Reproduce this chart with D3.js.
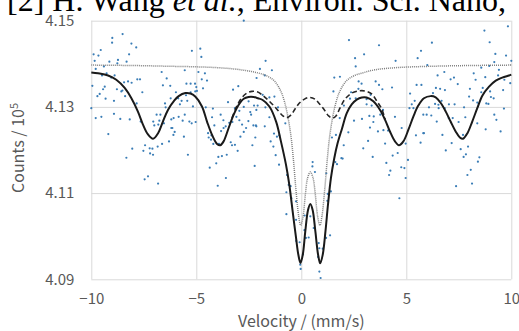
<!DOCTYPE html>
<html>
<head>
<meta charset="utf-8">
<script src="https://cdn.jsdelivr.net/npm/d3@7"></script>
<style>
  html, body { margin: 0; padding: 0; background: #fff; }
  svg { display: block; }
  .axis text { font-family: "Noto Sans CJK JP", "Noto Sans", sans-serif; fill: #595959; }
</style>
</head>
<body>
<div id="chart"></div>
<script>
// Mossbauer spectrum: measured counts (dots), total fit (solid),
// sextet component (dashed), doublet component (dotted)

const xTicks = [-10, -5, 0, 5, 10];
const yTicks = [4.09, 4.11, 4.13, 4.15];

// measured points [velocity mm/s, counts / 1e5]
const measured = [
  [-8.51,4.1469],[-9.00,4.1460],[-8.09,4.1447],[-9.01,4.1449],[-9.55,4.1432],[-7.86,4.1438],[-9.89,4.1422],[-9.66,4.1419],
  [-8.20,4.1422],[-9.14,4.1405],[-8.73,4.1409],[-8.32,4.1405],[-8.76,4.1401],[-9.84,4.1407],[-9.40,4.1394],[-9.79,4.1388],
  [-6.65,4.1381],[-9.27,4.1378],[-9.49,4.1373],[-8.89,4.1373],[-9.05,4.1368],[-6.41,4.1366],[-7.81,4.1364],[-7.68,4.1364],
  [-8.25,4.1359],[-8.44,4.1357],[-8.08,4.1356],[-9.95,4.1349],[-9.36,4.1347],[-6.24,4.1349],[-6.59,4.1350],[-9.44,4.1341],
  [-8.52,4.1338],[-8.78,4.1341],[-8.57,4.1336],[-7.57,4.1334],[-9.60,4.1330],[-9.71,4.1325],[-8.39,4.1325],[-9.32,4.1319],
  [-8.92,4.1314],[-6.22,4.1320],[-7.84,4.1308],[-6.49,4.1308],[-10.0,4.1297],[-6.46,4.1299],[-8.92,4.1284],[-6.89,4.1282],
  [-6.71,4.1282],[-9.79,4.1274],[-9.52,4.1277],[-8.62,4.1272],[-8.17,4.1271],[-7.65,4.1266],[-7.05,4.1266],[-6.76,4.1268],
  [-6.19,4.1271],[-6.54,4.1262],[-7.00,4.1257],[-6.81,4.1259],[-6.19,4.1251],[-9.19,4.1237],[-6.09,4.1235],[-6.30,4.1220],
  [-6.63,4.1214],[-7.44,4.1211],[-6.84,4.1208],[-7.22,4.1204],[-7.09,4.1203],[-8.05,4.1203],[-7.52,4.1198],[-7.20,4.1192],
  [-7.06,4.1189],[-8.33,4.1182],[-7.46,4.1132],[-7.30,4.1139],[-6.82,4.1122],
  [-2.74,4.1500],[-5.21,4.1430],[-4.81,4.1435],[-4.76,4.1416],[-5.55,4.1385],[-4.90,4.1381],[-4.59,4.1378],[-4.74,4.1364],
  [-4.49,4.1361],[-5.06,4.1354],[-5.27,4.1354],[-5.47,4.1354],[-5.00,4.1346],[-4.68,4.1343],[-4.97,4.1337],[-3.25,4.1340],
  [-3.00,4.1348],[-5.97,4.1334],[-5.27,4.1334],[-5.05,4.1336],[-5.49,4.1327],[-5.86,4.1320],[-5.70,4.1314],[-5.43,4.1314],
  [-5.78,4.1306],[-5.16,4.1301],[-4.55,4.1299],[-4.21,4.1296],[-3.16,4.1297],[-3.49,4.1311],[-2.51,4.1313],[-2.25,4.1303],
  [-2.74,4.1300],[-2.95,4.1291],[-2.43,4.1288],[-2.39,4.1282],[-5.55,4.1282],[-5.84,4.1277],[-6.08,4.1274],[-3.09,4.1277],
  [-3.84,4.1282],[-4.25,4.1276],[-5.33,4.1266],[-5.65,4.1268],[-5.22,4.1262],[-5.03,4.1265],[-3.71,4.1269],[-3.43,4.1263],
  [-3.28,4.1265],[-2.95,4.1269],[-2.52,4.1267],[-2.82,4.1259],[-2.28,4.1257],[-4.14,4.1257],[-3.60,4.1255],[-3.70,4.1251],
  [-6.14,4.1251],[-4.44,4.1239],[-2.14,4.1255],[-2.63,4.1251],[-6.03,4.1242],[-4.28,4.1234],[-2.74,4.1242],[-4.41,4.1229],
  [-5.59,4.1231],[-3.82,4.1244],[-2.90,4.1231],[-2.19,4.1229],[-4.30,4.1224],[-4.19,4.1214],[-3.92,4.1214],[-3.36,4.1218],
  [-3.30,4.1211],[-3.16,4.1212],[-2.33,4.1211],[-3.03,4.1198],[-5.40,4.1189],[-3.95,4.1184],[-3.78,4.1186],[-3.55,4.1189],
  [-4.05,4.1169],[-4.36,4.1159],[-2.22,4.1163],[-3.59,4.1135],[-3.98,4.1117],
  [-1.70,4.1407],[-1.97,4.1388],[-1.40,4.1385],[-1.74,4.1373],[-2.13,4.1367],[1.57,4.1368],[-1.28,4.1324],[-1.52,4.1322],
  [-1.84,4.1328],[-2.08,4.1303],[-1.71,4.1299],[-1.11,4.1299],[-2.14,4.1293],[1.53,4.1336],[-1.52,4.1276],[-2.16,4.1257],
  [-1.74,4.1255],[-0.76,4.1262],[1.83,4.1274],[-1.30,4.1238],[-1.16,4.1231],[-1.05,4.1234],[-1.46,4.1220],[1.65,4.1235],
  [1.46,4.1229],[-1.33,4.1208],[-1.22,4.1188],[-1.06,4.1166],[1.91,4.1181],[1.62,4.1172],[1.70,4.1167],[0.54,4.1172],
  [0.53,4.1162],[0.65,4.1149],[1.19,4.1146],[-0.68,4.1142],[-0.60,4.1119],[-0.51,4.1116],[1.41,4.1104],[-0.71,4.1102],
  [1.26,4.1098],[-0.47,4.1088],[-0.25,4.1081],[1.24,4.1082],[-0.71,4.1051],[0.16,4.1048],[0.43,4.1046],[0.59,4.1019],
  [1.37,4.1002],[0.15,4.1014],[-0.25,4.1038],[-0.24,4.0989],[-0.08,4.0986],[0.22,4.0996],[0.35,4.0997],[1.18,4.0996],
  [0.83,4.0984],[0.86,4.0972],[1.02,4.0971],[0.08,4.0958],[0.80,4.0952],[-0.05,4.0934],[-0.03,4.0924],[0.86,4.0918],
  [0.92,4.0903],
  [2.27,4.1455],[3.70,4.1443],[2.99,4.1422],[2.56,4.1413],[4.49,4.1407],[5.70,4.1430],[5.54,4.1413],[2.59,4.1394],
  [1.84,4.1370],[2.73,4.1359],[2.87,4.1354],[3.54,4.1359],[3.70,4.1351],[5.49,4.1351],[5.72,4.1351],[4.32,4.1345],
  [2.72,4.1342],[3.86,4.1341],[2.37,4.1334],[2.59,4.1320],[2.32,4.1319],[3.11,4.1318],[3.30,4.1328],[3.35,4.1303],
  [5.18,4.1331],[5.26,4.1306],[5.40,4.1314],[5.15,4.1297],[5.34,4.1297],[3.11,4.1306],[2.03,4.1303],[3.89,4.1293],
  [3.45,4.1278],[3.24,4.1279],[2.89,4.1272],[3.76,4.1282],[2.51,4.1268],[4.46,4.1277],[4.78,4.1251],[3.65,4.1243],
  [3.91,4.1246],[4.13,4.1245],[2.24,4.1241],[2.02,4.1211],[3.27,4.1252],[3.43,4.1265],[5.46,4.1234],[5.68,4.1217],
  [4.97,4.1215],[3.99,4.1215],[3.18,4.1221],[2.95,4.1204],[4.59,4.1193],[4.35,4.1187],[3.40,4.1184],[4.05,4.1170],
  [5.08,4.1177],[4.76,4.1160],[4.91,4.1158],[4.24,4.1152],[4.18,4.1142],[4.97,4.1135],[1.97,4.1180],[4.67,4.1088],
  [5.81,4.1239],[5.81,4.1282],
  [8.72,4.1477],[9.84,4.1487],[6.22,4.1449],[8.97,4.1450],[9.24,4.1423],[9.75,4.1419],[9.19,4.1404],[10.0,4.1407],
  [6.00,4.1397],[8.57,4.1391],[8.95,4.1395],[9.41,4.1386],[6.81,4.1381],[8.21,4.1378],[6.49,4.1373],[8.76,4.1369],
  [9.37,4.1373],[9.67,4.1363],[7.27,4.1368],[7.11,4.1364],[8.30,4.1363],[7.45,4.1353],[9.95,4.1355],[8.03,4.1342],
  [8.64,4.1344],[6.41,4.1344],[6.61,4.1342],[6.84,4.1339],[9.61,4.1339],[6.27,4.1332],[8.57,4.1334],[8.99,4.1336],
  [9.03,4.1323],[9.16,4.1320],[7.99,4.1324],[8.18,4.1315],[8.38,4.1310],[6.68,4.1314],[6.37,4.1307],[8.81,4.1308],
  [8.91,4.1307],[6.53,4.1305],[7.03,4.1306],[7.30,4.1306],[6.54,4.1297],[6.08,4.1299],[6.19,4.1280],[5.97,4.1282],
  [7.75,4.1299],[6.83,4.1297],[7.02,4.1274],[7.21,4.1274],[9.19,4.1282],[9.29,4.1270],[7.81,4.1276],[7.49,4.1265],
  [6.45,4.1266],[8.38,4.1262],[8.78,4.1248],[9.49,4.1243],[5.84,4.1239],[6.72,4.1235],[7.70,4.1235],[7.16,4.1216],
  [7.59,4.1202],[7.94,4.1208],[6.88,4.1199],[7.84,4.1190],[7.73,4.1184],[8.48,4.1183],[8.41,4.1173],[8.07,4.1154],
  [7.91,4.1142],[8.13,4.1122],[7.37,4.1116],[9.65,4.1296]
];

// total fit (solid line)
const totalFit = [
  [-10.0,4.1380],[-9.68,4.1378],[-9.20,4.1373],[-8.81,4.1363],[-8.41,4.1344],[-8.09,4.1320],[-7.78,4.1289],[-7.54,4.1259],
  [-7.30,4.1236],[-7.06,4.1226],[-6.82,4.1239],[-6.59,4.1266],[-6.35,4.1293],[-6.06,4.1314],[-5.84,4.1325],[-5.52,4.1332],
  [-5.28,4.1331],[-5.05,4.1324],[-4.73,4.1301],[-4.49,4.1266],[-4.25,4.1235],[-4.01,4.1214],[-3.86,4.1211],[-3.70,4.1220],
  [-3.46,4.1251],[-3.22,4.1282],[-2.98,4.1305],[-2.74,4.1319],[-2.51,4.1323],[-2.27,4.1323],[-2.06,4.1320],[-1.84,4.1316],
  [-1.52,4.1301],[-1.20,4.1266],[-0.97,4.1220],[-0.73,4.1166],[-0.57,4.1119],[-0.41,4.1057],[-0.25,4.0996],[-0.14,4.0957],
  [-0.04,4.0938],[0.07,4.0957],[0.19,4.1011],[0.32,4.1061],[0.43,4.1075],[0.54,4.1061],[0.67,4.1011],[0.80,4.0957],
  [0.90,4.0937],[1.02,4.0957],[1.15,4.1011],[1.27,4.1073],[1.41,4.1135],[1.57,4.1181],[1.73,4.1216],[1.94,4.1250],
  [2.16,4.1285],[2.40,4.1306],[2.64,4.1317],[2.88,4.1322],[3.11,4.1322],[3.43,4.1313],[3.75,4.1293],[3.99,4.1270],
  [4.22,4.1243],[4.46,4.1220],[4.65,4.1211],[4.86,4.1220],[5.10,4.1247],[5.34,4.1278],[5.57,4.1303],[5.84,4.1320],
  [6.16,4.1325],[6.40,4.1322],[6.64,4.1309],[6.88,4.1289],[7.11,4.1266],[7.35,4.1243],[7.55,4.1229],[7.70,4.1226],
  [7.91,4.1239],[8.14,4.1266],[8.38,4.1297],[8.62,4.1326],[8.94,4.1347],[9.26,4.1361],[9.57,4.1368],[9.89,4.1373],
  [10.0,4.1375]
];

// sextet component (dashed), only where it leaves the total fit
const sextetFit = [
  [-3.30,4.1274],[-3.06,4.1303],[-2.82,4.1322],[-2.59,4.1332],[-2.35,4.1336],[-2.10,4.1335],[-1.84,4.1327],[-1.52,4.1313],
  [-1.20,4.1297],[-0.89,4.1280],[-0.70,4.1275],[-0.50,4.1281],[-0.30,4.1295],[-0.09,4.1309],[0.15,4.1318],[0.40,4.1322],
  [0.65,4.1318],[0.85,4.1308],[1.10,4.1293],[1.30,4.1279],[1.48,4.1274],[1.65,4.1279],[1.84,4.1297],[2.08,4.1318],
  [2.40,4.1332],[2.72,4.1337],[3.03,4.1337],[3.35,4.1330],[3.59,4.1314],[3.83,4.1295],[3.99,4.1271]
];

// doublet component (dotted)
const doubletFit = [
  [-10.0,4.1397],[-8.0,4.1396],[-6.0,4.1394],[-5.0,4.1393],[-4.0,4.1391],[-3.2,4.1388],[-2.6,4.1384],[-2.16,4.1380],
  [-1.68,4.1373],[-1.28,4.1360],[-0.97,4.1336],[-0.80,4.1312],[-0.65,4.1280],[-0.50,4.1235],[-0.38,4.1180],[-0.25,4.1105],
  [-0.12,4.1045],[-0.03,4.1025],[0.08,4.1045],[0.20,4.1100],[0.30,4.1135],[0.43,4.1149],[0.56,4.1135],[0.66,4.1100],
  [0.78,4.1045],[0.89,4.1025],[0.98,4.1045],[1.11,4.1105],[1.24,4.1180],[1.36,4.1235],[1.51,4.1280],[1.66,4.1312],
  [1.83,4.1336],[2.14,4.1360],[2.54,4.1373],[3.0,4.1380],[3.5,4.1386],[4.5,4.1391],[6.0,4.1394],[8.0,4.1396],[10.0,4.1397]
];

const W = 519, H = 331;
const margin = { top: 20.7, right: 7.7, bottom: 51.7, left: 91.3 };
const width = W - margin.left - margin.right;
const height = H - margin.top - margin.bottom;

const root = d3.select("#chart").append("svg")
    .attr("width", W)
    .attr("height", H);

// citation line cut off at top of the picture
const cite = root.append("text")
    .attr("x", 7)
    .attr("y", 10.5)
    .attr("font-family", "Liberation Serif, Times New Roman, serif")
    .attr("font-size", 32)
    .attr("fill", "#000");
cite.append("tspan").text("[2] H. Wang ");
cite.append("tspan").attr("font-style", "italic").text("et al.");
cite.append("tspan").text(", Environ. Sci. Nano,");

const svg = root.append("g")
    .attr("transform", `translate(${margin.left},${margin.top})`);

const x = d3.scaleLinear().domain([-10, 10]).range([0, width]);
const y = d3.scaleLinear().domain([4.09, 4.15]).range([height, 0]);

// Grid
svg.append("g")
    .call(d3.axisBottom(x).tickValues(xTicks).tickSize(height).tickFormat(""))
    .call(g => g.select(".domain").remove())
    .call(g => g.selectAll("line").attr("stroke", "#d9d9d9"));

svg.append("g")
    .call(d3.axisLeft(y).tickValues(yTicks).tickSize(-width).tickFormat(""))
    .call(g => g.select(".domain").remove())
    .call(g => g.selectAll("line").attr("stroke", "#d9d9d9"));

// Axes labels
svg.append("g")
    .attr("class", "axis")
    .attr("transform", `translate(0,${height})`)
    .call(d3.axisBottom(x).tickValues(xTicks).tickSize(0).tickPadding(14).tickFormat(d3.format("d")))
    .call(g => g.select(".domain").remove())
    .call(g => g.selectAll("text").attr("font-size", 15));

svg.append("g")
    .attr("class", "axis")
    .call(d3.axisLeft(y).tickValues(yTicks).tickSize(0).tickPadding(17).tickFormat(d3.format(".2f")))
    .call(g => g.select(".domain").remove())
    .call(g => g.selectAll("text").attr("font-size", 15));

root.append("text")
    .attr("x", margin.left + width / 2)
    .attr("y", 327)
    .attr("text-anchor", "middle")
    .attr("font-family", "Noto Sans CJK JP, Noto Sans, sans-serif")
    .attr("font-size", 16)
    .attr("fill", "#595959")
    .text("Velocity / (mm/s)");

const yl = root.append("text")
    .attr("transform", `translate(24,148) rotate(-90)`)
    .attr("text-anchor", "middle")
    .attr("font-family", "Noto Sans CJK JP, Noto Sans, sans-serif")
    .attr("font-size", 16)
    .attr("fill", "#595959");
yl.append("tspan").text("Counts / 10");
yl.append("tspan").attr("font-size", 11).attr("dy", -6).text("5");

// Measured points
svg.selectAll(".pt")
    .data(measured)
    .join("circle")
    .attr("class", "pt")
    .attr("cx", d => x(d[0]))
    .attr("cy", d => y(d[1]))
    .attr("r", 1.1)
    .attr("fill", "#3a7db6");

const line = d3.line()
    .x(d => x(d[0]))
    .y(d => y(d[1]))
    .curve(d3.curveCatmullRom.alpha(0.5));

svg.append("path")
    .datum(doubletFit)
    .attr("d", line)
    .attr("fill", "none")
    .attr("stroke", "#7f7f7f")
    .attr("stroke-width", 1.5)
    .attr("stroke-dasharray", "1,1");

svg.append("path")
    .datum(sextetFit)
    .attr("d", line)
    .attr("fill", "none")
    .attr("stroke", "#262626")
    .attr("stroke-width", 1.6)
    .attr("stroke-dasharray", "5,3");

svg.append("path")
    .datum(totalFit)
    .attr("d", line)
    .attr("fill", "none")
    .attr("stroke", "#1a1a1a")
    .attr("stroke-width", 2);
</script>
</body>
</html>
